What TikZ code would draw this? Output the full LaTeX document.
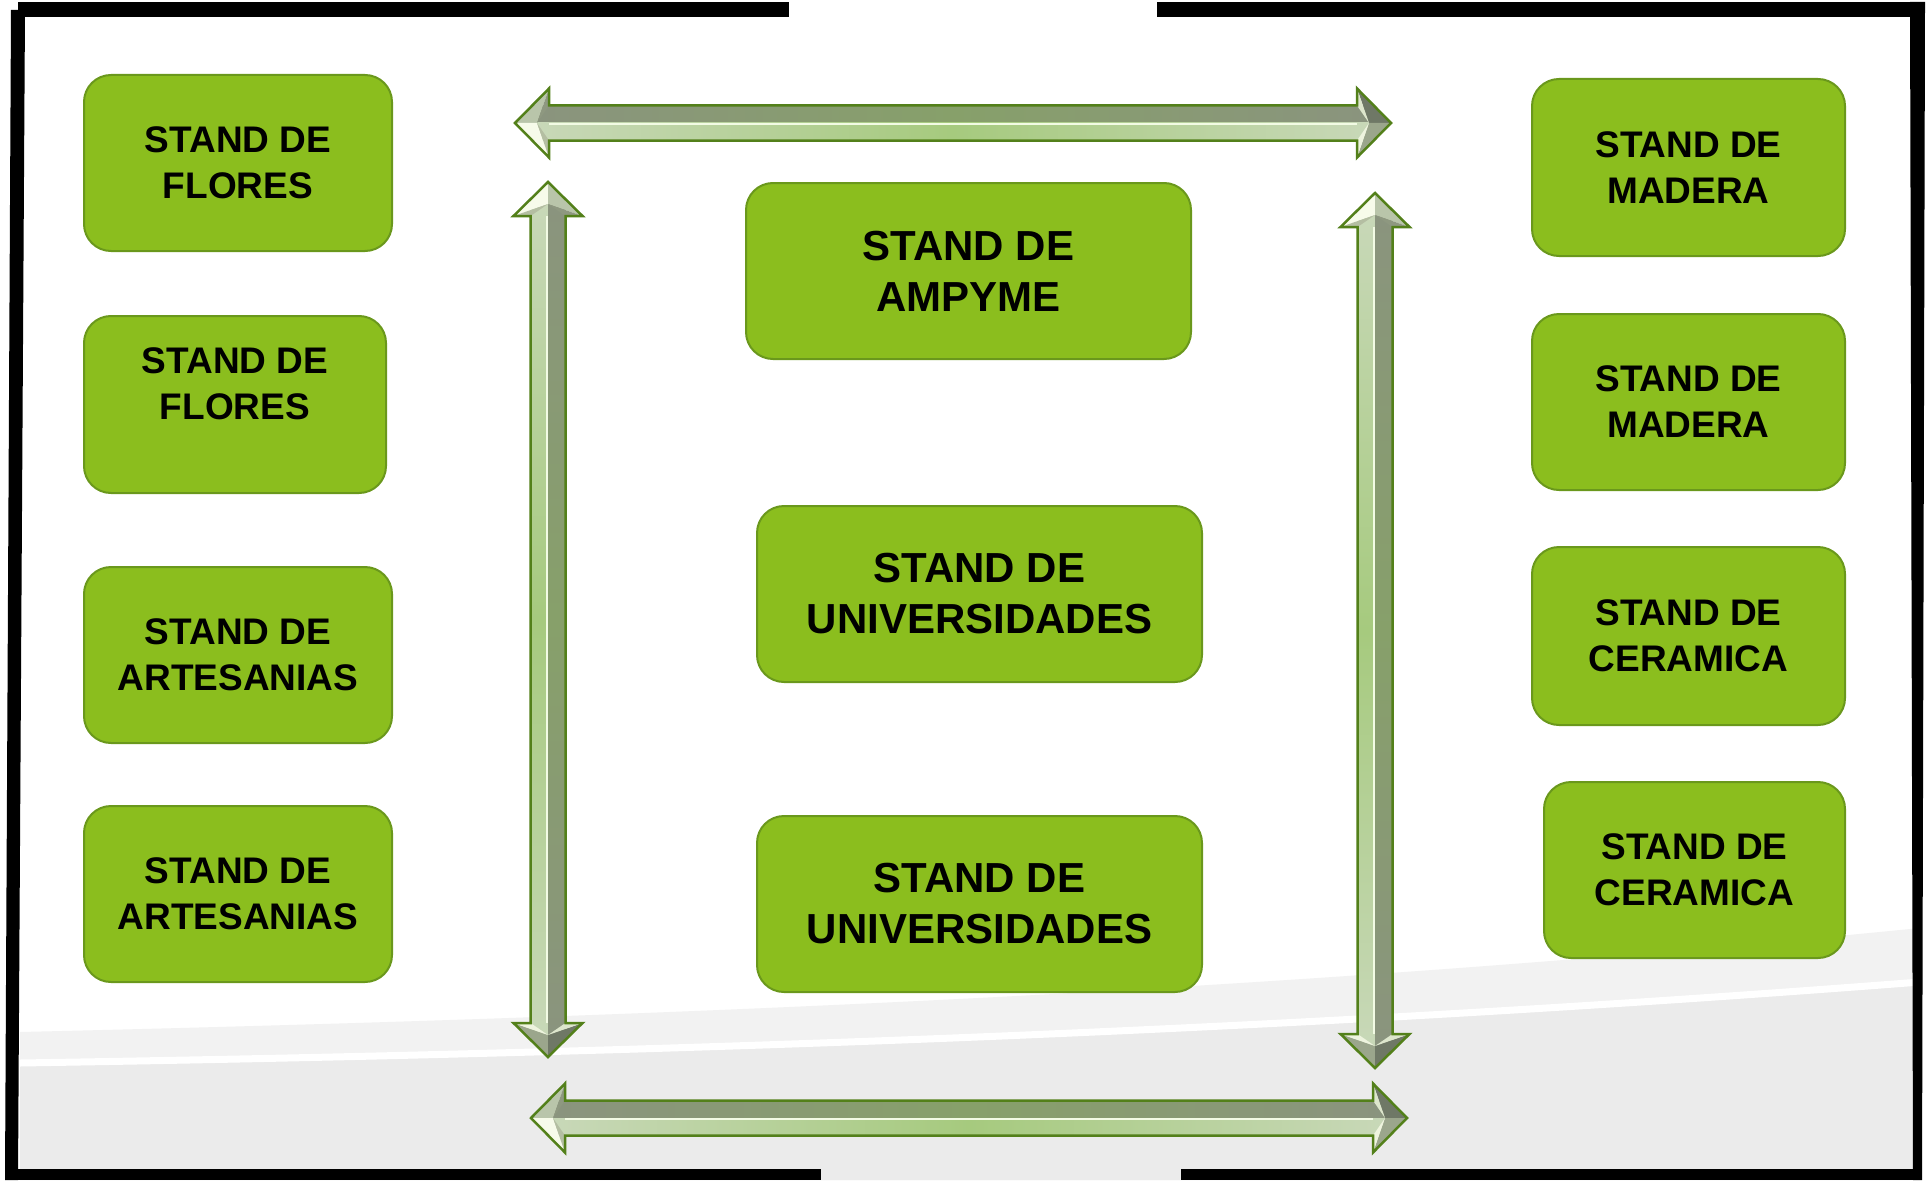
\documentclass[tikz,border=0pt]{standalone}
\usepackage{fontspec}
\setmainfont{Liberation Sans}
\definecolor{boxfill}{HTML}{8BBE1E}
\definecolor{boxline}{HTML}{6A981C}
\definecolor{bandA}{HTML}{F2F2F2}
\definecolor{bandB}{HTML}{EBEBEB}
\definecolor{arrline}{HTML}{53801A}
\definecolor{drk}{HTML}{8A947E}
\definecolor{drkm}{HTML}{87A06A}
\definecolor{lgt}{HTML}{C8D8B8}
\definecolor{lgtm}{HTML}{A6CA7E}
\definecolor{hil}{HTML}{F2FBE4}
\definecolor{fa}{HTML}{B9C5AA}
\definecolor{fb}{HTML}{F7FBEA}
\definecolor{fc}{HTML}{8E9880}
\definecolor{fd}{HTML}{B4BEA2}
\definecolor{fe}{HTML}{6F7866}
\definecolor{ff}{HTML}{9BA68C}
\definecolor{fg}{HTML}{DDE6CC}
\definecolor{fh}{HTML}{EEF4DE}
\newcommand{\HArr}[3]{%
 \shade[left color=drk, right color=drk, middle color=drkm] ({#1+22},{#3-17.5}) rectangle ({#2-22},{#3});
 \shade[left color=lgt, right color=lgt, middle color=lgtm] ({#1+22},{#3}) rectangle ({#2-22},{#3+17.5});
 \draw[hil, line width=2pt] ({#1+34},{#3+1}) -- ({#2-34},{#3+1});
 \fill[fa] (#1,#3) -- ({#1+34},{#3-34.5}) -- ({#1+22},#3) -- cycle;
 \fill[fb] (#1,#3) -- ({#1+34},{#3+34.5}) -- ({#1+22},#3) -- cycle;
 \fill[fc] ({#1+34},{#3-34.5}) -- ({#1+34},{#3-17.5}) -- ({#1+22},#3) -- cycle;
 \fill[fd] ({#1+34},{#3+34.5}) -- ({#1+34},{#3+17.5}) -- ({#1+22},#3) -- cycle;
 \fill[fe] (#2,#3) -- ({#2-34},{#3-34.5}) -- ({#2-22},#3) -- cycle;
 \fill[ff] (#2,#3) -- ({#2-34},{#3+34.5}) -- ({#2-22},#3) -- cycle;
 \fill[fg] ({#2-34},{#3-34.5}) -- ({#2-34},{#3-17.5}) -- ({#2-22},#3) -- cycle;
 \fill[fh] ({#2-34},{#3+34.5}) -- ({#2-34},{#3+17.5}) -- ({#2-22},#3) -- cycle;
 \draw[arrline, line width=2.5pt, line join=miter] (#1,#3) -- ({#1+34},{#3-34.5}) -- ({#1+34},{#3-17.5}) -- ({#2-34},{#3-17.5}) -- ({#2-34},{#3-34.5}) -- (#2,#3) -- ({#2-34},{#3+34.5}) -- ({#2-34},{#3+17.5}) -- ({#1+34},{#3+17.5}) -- ({#1+34},{#3+34.5}) -- cycle;
}
\newcommand{\VArr}[3]{%
 \shade[top color=lgt, bottom color=lgt, middle color=lgtm] ({#1-17.5},{#2+22}) rectangle (#1,{#3-22});
 \shade[top color=drk, bottom color=drk, middle color=drkm] (#1,{#2+22}) rectangle ({#1+17.5},{#3-22});
 \draw[hil, line width=2pt] ({#1-1},{#2+34}) -- ({#1-1},{#3-34});
 \fill[fb] (#1,#2) -- ({#1-34.5},{#2+34}) -- (#1,{#2+22}) -- cycle;
 \fill[fa] (#1,#2) -- ({#1+34.5},{#2+34}) -- (#1,{#2+22}) -- cycle;
 \fill[fd] ({#1-34.5},{#2+34}) -- ({#1-17.5},{#2+34}) -- (#1,{#2+22}) -- cycle;
 \fill[fc] ({#1+34.5},{#2+34}) -- ({#1+17.5},{#2+34}) -- (#1,{#2+22}) -- cycle;
 \fill[ff] (#1,#3) -- ({#1-34.5},{#3-34}) -- (#1,{#3-22}) -- cycle;
 \fill[fe] (#1,#3) -- ({#1+34.5},{#3-34}) -- (#1,{#3-22}) -- cycle;
 \fill[fh] ({#1-34.5},{#3-34}) -- ({#1-17.5},{#3-34}) -- (#1,{#3-22}) -- cycle;
 \fill[fg] ({#1+34.5},{#3-34}) -- ({#1+17.5},{#3-34}) -- (#1,{#3-22}) -- cycle;
 \draw[arrline, line width=2.5pt, line join=miter] (#1,#2) -- ({#1+34.5},{#2+34}) -- ({#1+17.5},{#2+34}) -- ({#1+17.5},{#3-34}) -- ({#1+34.5},{#3-34}) -- (#1,#3) -- ({#1-34.5},{#3-34}) -- ({#1-17.5},{#3-34}) -- ({#1-17.5},{#2+34}) -- ({#1-34.5},{#2+34}) -- cycle;
}
\begin{document}
\begin{tikzpicture}[x=1pt,y=-1pt,
  standbox/.style={draw=boxline, line width=2pt, fill=boxfill, rounded corners=27pt, align=center, inner sep=0pt, font=\bfseries\fontsize{37pt}{46pt}\selectfont, minimum height=176pt},
  bigbox/.style={standbox, font=\bfseries\fontsize{42pt}{51pt}\selectfont},
  stext/.style={align=center, inner sep=0pt, font=\bfseries\fontsize{37pt}{46pt}\selectfont}]
\useasboundingbox (0,0) rectangle (1929,1180);
\fill[white] (0,0) rectangle (1929,1180);
% background bands
\fill[bandA] (20,1032) .. controls (700,1016) and (1300,990) .. (1920,928) -- (1920,1180) -- (20,1180) -- cycle;
\fill[bandB] (20,1063) .. controls (700,1052) and (1300,1030) .. (1920,982) -- (1920,1180) -- (20,1180) -- cycle;
\draw[white, line width=7pt] (20,1063) .. controls (700,1052) and (1300,1030) .. (1920,982);
% frame
\fill[black] (18,2) rectangle (789,17);
\fill[black] (1157,2) rectangle (1925,17);
\fill[black] (5,1169) rectangle (821,1180);
\fill[black] (1181,1169) rectangle (1921,1180);
\fill[black] (11,10) -- (25,10) -- (18,1180) -- (5,1180) -- cycle;
\fill[black] (1910,2) -- (1925,2) -- (1922,1180) -- (1913,1180) -- cycle;
% left column
\node[standbox, minimum width=308pt] (l1) at (238,163) {STAND DE\\FLORES};
\node[standbox, minimum width=302pt, minimum height=177pt] (l2) at (235,404.5) {};
\node[stext] (l2t) at (235,383.5) {STAND DE\\FLORES};
\node[standbox, minimum width=308pt] (l3) at (238,655) {STAND DE\\ARTESANIAS};
\node[standbox, minimum width=308pt] (l4) at (238,894) {STAND DE\\ARTESANIAS};
% centre column
\node[bigbox, minimum width=445pt] (c1) at (968.5,271) {STAND DE\\AMPYME};
\node[bigbox, minimum width=445pt] (c2) at (979.5,594) {STAND DE\\UNIVERSIDADES};
\node[bigbox, minimum width=445pt] (c3) at (979.5,904) {STAND DE\\UNIVERSIDADES};
% right column
\node[standbox, minimum width=313pt, minimum height=177pt] (r1) at (1688.5,167.5) {STAND DE\\MADERA};
\node[standbox, minimum width=313pt] (r2) at (1688.5,402) {STAND DE\\MADERA};
\node[standbox, minimum width=313pt, minimum height=178pt] (r3) at (1688.5,636) {STAND DE\\CERAMICA};
\node[standbox, minimum width=301pt] (r4) at (1694.5,870) {STAND DE\\CERAMICA};
% block arrows
\HArr{515}{1391}{123}
\HArr{531}{1407}{1118}
\VArr{548}{182}{1057}
\VArr{1375}{193}{1068}
\end{tikzpicture}
\end{document}
